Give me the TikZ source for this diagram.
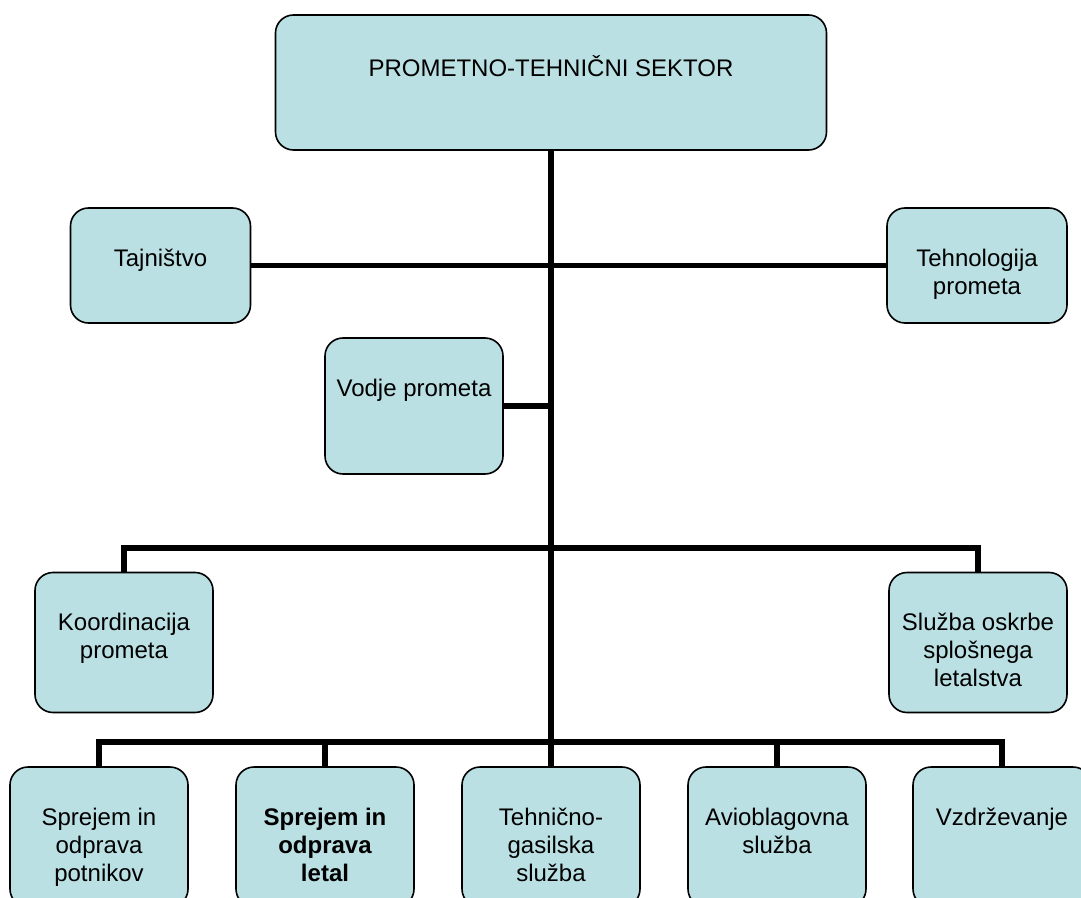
\documentclass[tikz,border=0pt]{standalone}
\usepackage{fontspec}
\setmainfont{Liberation Sans}
\usetikzlibrary{backgrounds}
\definecolor{boxfill}{RGB}{186,224,227}
\begin{document}
\begin{tikzpicture}[x=0.75pt,y=-0.75pt,
  box/.style={draw=black, line width=1.2pt, fill=boxfill, rounded corners=13.5pt, inner sep=0pt, minimum width=133.5pt},
  txt/.style={font=\fontsize{18}{21}\selectfont, align=center, anchor=base, inner sep=0pt},
  conn/.style={line width=4pt, line join=miter, line cap=rect}]
\clip (0,0) rectangle (1081,898);
% boxes
\node[box, minimum width=413.25pt, minimum height=101.25pt] (top) at (551,82.5) {};
\node[box, minimum width=135pt, minimum height=86.25pt] (taj) at (160.5,265.5) {};
\node[box, minimum width=135pt, minimum height=86.25pt] (teh) at (977,265.5) {};
\node[box, minimum height=102pt] (vod) at (414,406) {};
\node[box, minimum height=105pt] (koo) at (124,642.5) {};
\node[box, minimum height=105pt] (slu) at (978,642.5) {};
\node[box, minimum height=105pt] (b1) at (99,837) {};
\node[box, minimum height=105pt] (b2) at (325,837) {};
\node[box, minimum height=105pt] (b3) at (551,837) {};
\node[box, minimum height=105pt] (b4) at (777,837) {};
\node[box, minimum height=105pt] (b5) at (1002,837) {};
% connectors
\coordinate (h1) at (551,548);
\coordinate (h2) at (551,742);
\begin{scope}[on background layer]
\draw[conn] (top.south) -- (b3.north);
\draw[conn] (taj.east) -- (teh.west);
\draw[conn] (vod.east) -- (vod.east -| top.south);
\draw[conn] (koo.north) |- (h1) -| (slu.north);
\draw[conn] (b1.north) |- (h2) -| (b5.north);
\draw[conn] (b2.north) -- (b2.north |- h2);
\draw[conn] (b4.north) -- (b4.north |- h2);
\end{scope}
% texts (base anchor = baseline of last line)
\node[txt] (topt) at ([yshift=-46.5pt]top.north) {PROMETNO-TEHNIČNI SEKTOR};
\node[txt] (tajt) at ([yshift=-44.25pt]taj.north) {Tajništvo};
\node[txt] (teht) at ([yshift=-65.25pt]teh.north) {Tehnologija\\prometa};
\node[txt] (vodt) at ([yshift=-44.25pt]vod.north) {Vodje prometa};
\node[txt] (koot) at ([yshift=-65.25pt]koo.north) {Koordinacija\\prometa};
\node[txt] (slut) at ([yshift=-86.25pt]slu.north) {Služba oskrbe\\splošnega\\letalstva};
\node[txt] (b1t) at ([yshift=-86.25pt]b1.north) {Sprejem in\\odprava\\potnikov};
\node[txt, font=\fontsize{18}{21}\selectfont\bfseries] (b2t) at ([yshift=-86.25pt]b2.north) {Sprejem in\\odprava\\letal};
\node[txt] (b3t) at ([yshift=-86.25pt]b3.north) {Tehnično-\\gasilska\\služba};
\node[txt] (b4t) at ([yshift=-65.25pt]b4.north) {Avioblagovna\\služba};
\node[txt] (b5t) at ([yshift=-44.25pt]b5.north) {Vzdrževanje};
\end{tikzpicture}
\end{document}
